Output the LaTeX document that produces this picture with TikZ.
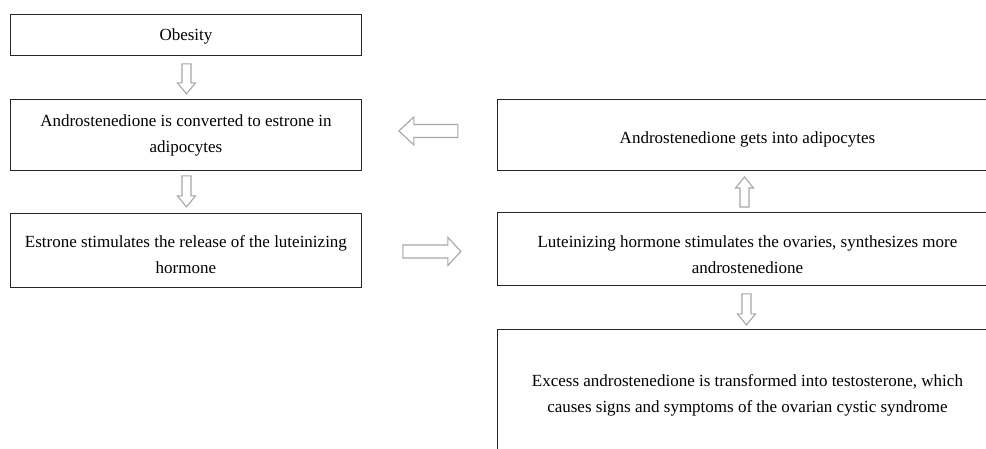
\documentclass[tikz,border=0pt]{standalone}
\usepackage{fontspec}
\setmainfont{Liberation Serif}
\usetikzlibrary{calc}
\definecolor{boxline}{HTML}{262626}
\definecolor{arrowgray}{HTML}{A6A6A6}
\tikzset{
  stepbox/.style={draw=boxline, line width=0.9pt, rectangle, anchor=north west,
    inner sep=0pt},
  boxtext/.style={align=center, inner sep=0pt, font=\fontsize{17}{26}\selectfont, text=black},
  arrowline/.style={draw=arrowgray, line width=1.1pt, fill=white, line join=miter},
  pics/barrow/.style n args={4}{code={
    \draw[arrowline] (0,-#3/2) -- (#1-#2,-#3/2) -- (#1-#2,-#4/2) -- (#1,0) -- (#1-#2,#4/2) -- (#1-#2,#3/2) -- (0,#3/2) -- cycle;
  }}
}
\begin{document}
\begin{tikzpicture}[x=1pt,y=1pt]
\useasboundingbox (0,0) rectangle (986,-448);
\begin{scope}
\clip (0,0) rectangle (986,-448);
\node[stepbox, minimum width=351pt, minimum height=41pt,
  label={[boxtext, yshift=-1pt]center:{Obesity}}] (obesity) at (10,-14) {};
\node[stepbox, minimum width=351pt, minimum height=71pt,
  label={[boxtext]center:{Androstenedione is converted to estrone in\\adipocytes}}] (conv) at (10,-99) {};
\node[stepbox, minimum width=351pt, minimum height=74pt,
  label={[boxtext, yshift=-4pt]center:{Estrone stimulates the release of the luteinizing\\hormone}}] (estrone) at (10,-213) {};
\node[stepbox, minimum width=500pt, minimum height=71pt,
  label={[boxtext, yshift=-4pt]center:{Androstenedione gets into adipocytes}}] (gets) at (497,-99) {};
\node[stepbox, minimum width=500pt, minimum height=73pt,
  label={[boxtext, yshift=-6pt]center:{Luteinizing hormone stimulates the ovaries, synthesizes more\\androstenedione}}] (lh) at (497,-212) {};
\node[stepbox, minimum width=500pt, minimum height=128pt,
  label={[boxtext, yshift=-2pt]center:{Excess androstenedione is transformed into testosterone, which\\causes signs and symptoms of the ovarian cystic syndrome}}] (excess) at (497,-329) {};
\end{scope}
\pic[rotate=-90] at ($(obesity.south)+(0.5,-8)$) {barrow={30pt}{11pt}{9pt}{18pt}};
\pic[rotate=-90] at ($(conv.south)+(0.5,-5)$) {barrow={31pt}{11pt}{9pt}{18pt}};
\pic[rotate=90] at ($(lh.north)+(-3,5)$) {barrow={30pt}{11pt}{9pt}{18pt}};
\pic[rotate=-90] at ($(lh.south)+(-1,-8)$) {barrow={31pt}{11pt}{9pt}{18pt}};
\pic[rotate=180] at ($(conv.east)+(96,4)$) {barrow={59pt}{15pt}{13pt}{28pt}};
\pic at ($(estrone.east)+(41,-1)$) {barrow={58pt}{13pt}{13pt}{28pt}};
\end{tikzpicture}
\end{document}
